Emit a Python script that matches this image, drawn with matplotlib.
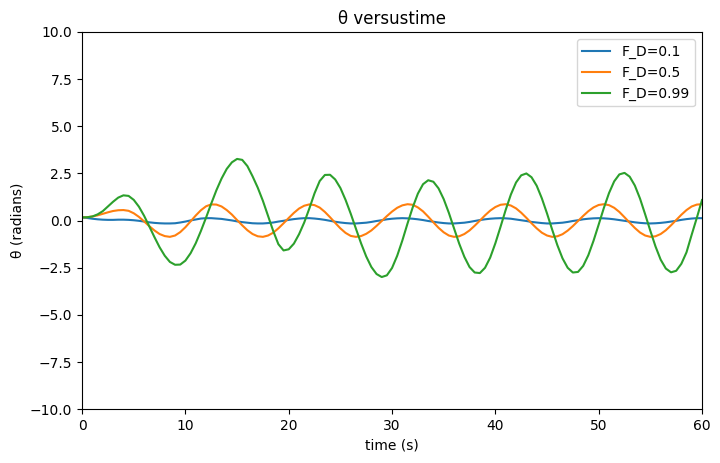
import matplotlib
matplotlib.use("Agg")
import matplotlib.pyplot as plt
import numpy as np

# sample times (s), every 0.5 s from 0 to 60
time = np.arange(0, 60.5, 0.5)

# theta (radians), one value per sample
theta_fd01 = [
    0.17, 0.14, 0.10, 0.07, 0.05, 0.04, 0.04, 0.05, 0.05, 0.04,
    0.02, -0.01, -0.05, -0.09, -0.12, -0.14, -0.15, -0.15, -0.14, -0.10,
    -0.05, 0.01, 0.06, 0.11, 0.13, 0.13, 0.11, 0.09, 0.05, 0.01,
    -0.04, -0.08, -0.11, -0.14, -0.15, -0.15, -0.13, -0.10, -0.05, -0.01,
    0.04, 0.08, 0.11, 0.13, 0.13, 0.11, 0.08, 0.04, -0.01, -0.06,
    -0.10, -0.13, -0.15, -0.15, -0.13, -0.11, -0.07, -0.02, 0.02, 0.07,
    0.10, 0.12, 0.13, 0.12, 0.10, 0.07, 0.03, -0.02, -0.06, -0.10,
    -0.13, -0.15, -0.15, -0.13, -0.11, -0.07, -0.02, 0.03, 0.07, 0.10,
    0.12, 0.13, 0.12, 0.10, 0.06, 0.02, -0.02, -0.07, -0.10, -0.13,
    -0.15, -0.15, -0.13, -0.11, -0.07, -0.02, 0.02, 0.07, 0.10, 0.12,
    0.13, 0.12, 0.10, 0.07, 0.03, -0.01, -0.05, -0.09, -0.12, -0.14,
    -0.15, -0.14, -0.12, -0.09, -0.05, -0.01, 0.04, 0.08, 0.11, 0.13,
    0.13,
]
theta_fd05 = [
    0.17, 0.18, 0.22, 0.28, 0.36, 0.44, 0.51, 0.55, 0.56, 0.52,
    0.39, 0.20, -0.04, -0.29, -0.52, -0.71, -0.82, -0.86, -0.79, -0.61,
    -0.35, -0.04, 0.27, 0.55, 0.76, 0.86, 0.85, 0.75, 0.56, 0.32,
    0.03, -0.25, -0.51, -0.71, -0.83, -0.86, -0.79, -0.64, -0.41, -0.14,
    0.14, 0.41, 0.64, 0.79, 0.86, 0.82, 0.69, 0.46, 0.18, -0.12,
    -0.41, -0.65, -0.81, -0.86, -0.82, -0.70, -0.52, -0.28, -0.02, 0.24,
    0.48, 0.68, 0.81, 0.87, 0.84, 0.70, 0.49, 0.21, -0.09, -0.38,
    -0.62, -0.79, -0.86, -0.83, -0.71, -0.52, -0.27, 0.00, 0.28, 0.53,
    0.72, 0.84, 0.87, 0.80, 0.65, 0.42, 0.15, -0.14, -0.41, -0.64,
    -0.79, -0.86, -0.83, -0.72, -0.53, -0.29, -0.02, 0.25, 0.50, 0.70,
    0.83, 0.87, 0.82, 0.68, 0.46, 0.18, -0.11, -0.39, -0.63, -0.79,
    -0.86, -0.83, -0.71, -0.51, -0.25, 0.03, 0.31, 0.56, 0.75, 0.85,
    0.87,
]
theta_fd099 = [
    0.17, 0.18, 0.22, 0.33, 0.50, 0.75, 1.00, 1.22, 1.34, 1.31,
    1.10, 0.74, 0.26, -0.30, -0.87, -1.41, -1.86, -2.19, -2.34, -2.33,
    -2.12, -1.73, -1.20, -0.55, 0.16, 0.90, 1.61, 2.23, 2.74, 3.09,
    3.27, 3.22, 2.89, 2.35, 1.75, 1.05, 0.25, -0.55, -1.25, -1.58,
    -1.52, -1.22, -0.72, -0.10, 0.65, 1.45, 2.10, 2.42, 2.43, 2.18,
    1.73, 1.10, 0.37, -0.42, -1.20, -1.90, -2.46, -2.83, -2.99, -2.90,
    -2.51, -1.86, -1.05, -0.15, 0.70, 1.43, 1.93, 2.14, 2.06, 1.71,
    1.14, 0.41, -0.41, -1.22, -1.92, -2.46, -2.75, -2.78, -2.50, -1.96,
    -1.20, -0.33, 0.57, 1.38, 2.02, 2.40, 2.50, 2.30, 1.85, 1.18,
    0.38, -0.48, -1.30, -2.00, -2.50, -2.75, -2.72, -2.40, -1.83, -1.07,
    -0.21, 0.67, 1.46, 2.08, 2.45, 2.53, 2.33, 1.86, 1.17, 0.33,
    -0.54, -1.37, -2.07, -2.54, -2.74, -2.66, -2.29, -1.68, -0.75, 0.15,
    1.09,
]

fig = plt.figure(figsize=(7.2, 4.63), dpi=100)
ax = fig.add_axes([0.114, 0.116, 0.861, 0.815])

ax.plot(time, theta_fd01, label='F_D=0.1')
ax.plot(time, theta_fd05, label='F_D=0.5')
ax.plot(time, theta_fd099, label='F_D=0.99')

ax.set_xlim(0, 60)
ax.set_ylim(-10, 10)
ax.set_title('θ versustime')
ax.set_xlabel('time (s)')
ax.set_ylabel('θ (radians)')
ax.legend(loc='upper right')

fig.savefig('out.png', dpi=100)
